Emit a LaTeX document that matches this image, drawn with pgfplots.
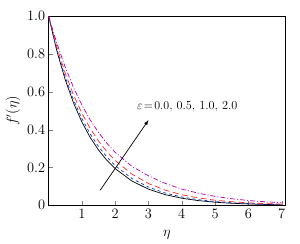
\documentclass[border=0pt]{standalone}
\usepackage{pgfplots}
\pgfplotsset{compat=1.18}
\newcommand{\fs}{\fontsize{13.5}{16}\selectfont}
\newcommand{\fa}{\fontsize{12.3}{15}\selectfont}
\begin{document}
\begin{tikzpicture}
\begin{axis}[
  name=ax,
  scale only axis, width=236bp, height=189bp,
  xmin=0, xmax=7.1, ymin=0, ymax=1,
  xtick={1,2,3,4,5,6,7},
  ytick={0,0.2,0.4,0.6,0.8,1.0},
  yticklabels={$0$,$0.2$,$0.4$,$0.6$,$0.8$,$1.0$},
  xtick pos=left, ytick pos=left,
  tick align=inside,
  major tick length=4pt,
  tick label style={font=\fs},
  label style={font=\fs},
  xlabel={$\eta$}, ylabel={$f'(\eta)$},
  xlabel style={yshift=-5bp},
  every axis y label/.style={at={(ticklabel cs:0.5)},rotate=90,anchor=south,font=\fs},
  axis line style={line width=0.7pt},
  clip=true,
]
\addplot[black, line width=0.7pt] coordinates {
(0,1) (0.25,0.8146) (0.5,0.6637) (0.75,0.5406) (1,0.4404) (1.25,0.3588) (1.5,0.2923) (1.75,0.2381) (2,0.1940) (2.5,0.1287) (3,0.0854) (3.5,0.0567) (4,0.0376) (4.5,0.0250) (5,0.0166) (5.5,0.0110) (6,0.0073) (6.5,0.0048) (7,0.0032)};
\addplot[blue!70!cyan!80!black, dashed, line width=0.7pt] coordinates {
(0,1) (0.25,0.8228) (0.5,0.6771) (0.75,0.5571) (1,0.4584) (1.25,0.3772) (1.5,0.3104) (1.75,0.2554) (2,0.2101) (2.5,0.1423) (3,0.0963) (3.5,0.0652) (4,0.0442) (4.5,0.0299) (5,0.0202) (5.5,0.0137) (6,0.0093) (6.5,0.0063) (7,0.0043)};
\addplot[red!85!white, dash pattern=on 6pt off 3.5pt, line width=0.7pt] coordinates {
(0,1) (0.25,0.8353) (0.5,0.6977) (0.75,0.5827) (1,0.4868) (1.25,0.4066) (1.5,0.3396) (1.75,0.2837) (2,0.2369) (2.5,0.1653) (3,0.1153) (3.5,0.0805) (4,0.0561) (4.5,0.0392) (5,0.0273) (5.5,0.0191) (6,0.0133) (6.5,0.0093) (7,0.0065)};
\addplot[violet!60!magenta, dash pattern=on 5pt off 2pt on 1pt off 2pt, line width=0.7pt] coordinates {
(0,1) (0.25,0.8550) (0.5,0.7300) (0.75,0.6220) (1,0.5300) (1.25,0.4510) (1.5,0.3850) (1.75,0.3280) (2,0.2800) (2.5,0.2060) (3,0.1560) (3.5,0.1160) (4,0.0860) (4.5,0.0640) (5,0.0474) (5.5,0.0349) (6,0.0257) (6.5,0.0190) (7,0.0140)};
\draw[-latex, line width=0.7pt] (axis cs:1.55,0.08) -- (axis cs:3.0,0.45);
\node[anchor=west, font=\fa, inner sep=0pt] at (axis cs:2.65,0.52) {$\varepsilon\!=\!0.0$, 0.5, 1.0, 2.0};
\end{axis}
\path ([shift={(-48.5bp,-38bp)}]ax.south west) rectangle ([shift={(15bp,16bp)}]ax.north east);
\end{tikzpicture}
\end{document}
